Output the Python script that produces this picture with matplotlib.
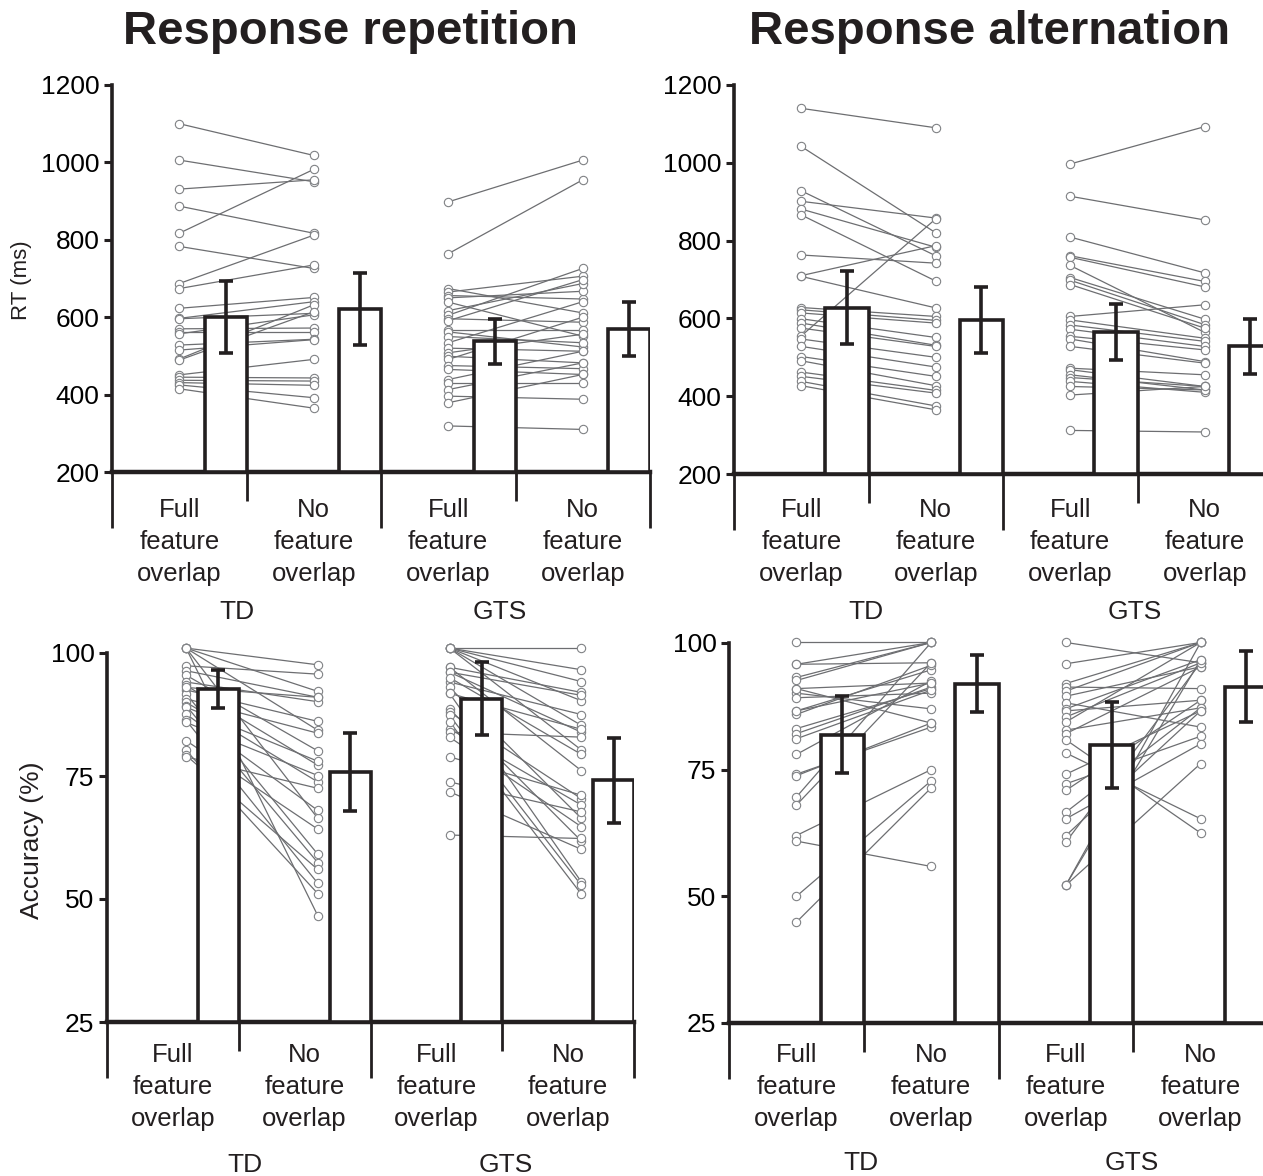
import numpy as np
import matplotlib.pyplot as plt

plt.rcParams['font.family'] = ['Liberation Sans', 'DejaVu Sans']

W, H = 1263, 1176
INK = '#231f20'
GREY = '#6d6e71'
RING = '#808285'

conditions = ['Full\nfeature\noverlap', 'No\nfeature\noverlap',
              'Full\nfeature\noverlap', 'No\nfeature\noverlap']
groups = ['TD', 'GTS']

# RT (ms), response repetition: group means +/- error, then single subjects
rt_rep_mean = [600, 621, 538, 570]
rt_rep_err = [93, 92, 58, 70]
rt_rep_td_full = [1100, 1006, 931, 887, 817, 783, 687, 674, 623, 597, 596, 570,
                  561, 557, 528, 515, 492, 489, 451, 445, 437, 431, 425, 415]
rt_rep_td_no = [1018, 950, 955, 817, 982, 726, 812, 735, 651, 640, 610, 572,
                561, 606, 543, 542, 632, 614, 491, 443, 435, 424, 392, 365]
rt_rep_gts_full = [898, 764, 674, 665, 656, 650, 639, 617, 605, 596, 591, 568, 562, 550,
                   534, 520, 508, 499, 491, 475, 465, 439, 429, 413, 396, 379, 319]
rt_rep_gts_no = [1006, 955, 611, 706, 647, 667, 551, 687, 726, 587, 697, 568, 523, 534,
                 640, 512, 556, 482, 600, 467, 452, 512, 429, 482, 388, 452, 310]

# RT (ms), response alternation
rt_alt_mean = [627, 596, 565, 528]
rt_alt_err = [94, 86, 73, 70]
rt_alt_td_full = [1140, 1042, 928, 901, 881, 866, 763, 710, 708, 628, 622, 614,
                  599, 588, 575, 555, 547, 528, 502, 491, 462, 451, 438, 427]
rt_alt_td_no = [1090, 820, 761, 858, 783, 696, 742, 787, 627, 605, 595, 588,
                551, 531, 528, 856, 500, 475, 451, 427, 415, 408, 375, 365]
rt_alt_gts_full = [997, 914, 809, 761, 757, 736, 705, 698, 687, 605, 596, 583,
                   572, 554, 547, 528, 472, 468, 455, 448, 438, 425, 403, 312]
rt_alt_gts_no = [1093, 853, 717, 695, 681, 564, 598, 584, 575, 635, 549, 541,
                 528, 519, 489, 485, 455, 425, 416, 425, 410, 416, 425, 308]

# Accuracy (%), response repetition
acc_rep_mean = [92.7, 75.8, 90.7, 74.1]
acc_rep_err = [3.9, 8.0, 7.4, 8.7]
acc_rep_td_full = [101, 101, 101, 101, 101, 97.4, 96.4, 95.5, 94.1, 93.4, 92.5, 91.7,
                   90.7, 90.0, 89.3, 89.0, 87.6, 86.3, 85.9, 82.2, 80.2, 79.2, 78.9, 93.0]
acc_rep_td_no = [97.6, 92.2, 84.3, 66.4, 46.6, 95.7, 91.0, 80.1, 90.1, 77.2, 86.1, 59.1,
                 83.7, 73.8, 57.4, 78.0, 68.0, 53.2, 75.1, 64.2, 51.1, 56.0, 72.5, 91.0]
acc_rep_gts_full = [101, 101, 101, 101, 101, 101, 97.1, 97.1, 96.1, 96.1, 94.1, 93.0, 91.8,
                    91.8, 88.6, 88.0, 87.3, 84.6, 83.9, 82.9, 78.9, 73.8, 71.8, 63.0, 95.0, 86.0]
acc_rep_gts_no = [101, 96.6, 94.2, 90.3, 85.3, 80.3, 92.0, 76.1, 91.4, 83.9, 87.5, 66.4, 53.5,
                  84.5, 61.8, 70.4, 52.8, 69.1, 82.9, 64.7, 71.1, 67.7, 60.1, 62.3, 79.4, 51.0]

# Accuracy (%), response alternation
acc_alt_mean = [81.9, 92.0, 79.8, 91.4]
acc_alt_err = [7.6, 5.7, 8.5, 7.0]
acc_alt_td_full = [100.1, 95.8, 95.8, 93.2, 92.6, 91.0, 90.1, 89.2, 86.6, 85.9, 83.1, 82.1,
                   81.1, 78.0, 74.1, 73.8, 69.6, 68.0, 62.0, 60.9, 50.0, 44.9, 91.0, 86.6]
acc_alt_td_no = [100.1, 96.1, 100.1, 100.1, 100.1, 92.1, 87.0, 90.1, 94.7, 95.6, 91.0, 91.3,
                 90.7, 92.5, 83.4, 84.2, 100.1, 96.1, 75.0, 55.9, 72.8, 71.4, 84.2, 92.1]
acc_alt_gts_full = [100.1, 95.9, 92.0, 91.3, 90.5, 89.5, 88.2, 87.0, 86.6, 85.4, 84.4, 82.8, 82.1,
                    80.9, 78.3, 74.1, 72.2, 70.9, 66.6, 65.3, 62.0, 60.7, 52.2, 52.2, 52.2]
acc_alt_gts_no = [96.1, 100.1, 100.1, 91.0, 100.1, 95.3, 83.4, 96.7, 88.7, 96.1, 100.1, 87.2, 95.3,
                  62.5, 65.3, 86.6, 81.6, 88.7, 87.2, 80.1, 86.6, 96.1, 100.1, 96.7, 76.2]

fig = plt.figure(figsize=(W / 100, H / 100), dpi=100)


def add_axes(left, right, top, bottom):
    return fig.add_axes([left / W, 1 - bottom / H, (right - left) / W, (bottom - top) / H])


def below(ax, px):
    return -px / ax.bbox.height


def draw_panel(ax, ylim, yticks, means, errs, subjects, pt_off, bar_w,
               text_px, group_px, group_x):
    ymin = ylim[0]
    # single-subject lines, full vs. no overlap
    for g, (full, no) in enumerate(subjects):
        xs = [2 * g + pt_off, 2 * g + 1 + pt_off]
        ys = np.array([full, no], dtype=float)
        ax.plot(xs, ys, color=GREY, lw=0.9, zorder=2, clip_on=False)
        for x, y in zip(xs, ys):
            ax.plot(np.full(len(y), x), y, ls='none', marker='o', ms=6,
                    mfc='white', mec=RING, mew=0.8, zorder=2.5, clip_on=False)

    lefts = np.arange(4) + 1 - bar_w
    ax.bar(lefts, np.array(means) - ymin, bottom=ymin, width=bar_w, align='edge',
           color='white', edgecolor=INK, linewidth=2.6, zorder=3)
    ax.errorbar(lefts + bar_w / 2, means, yerr=errs, fmt='none', ecolor=INK,
                elinewidth=2.6, capsize=4.8, capthick=2.6, zorder=4)

    ax.set_xlim(0, 4)
    ax.set_ylim(*ylim)
    ax.set_yticks(yticks)
    ax.set_xticks([])
    ax.spines[['top', 'right']].set_visible(False)
    ax.spines['left'].set_linewidth(2.6)
    ax.spines['left'].set_color(INK)
    ax.spines['bottom'].set_linewidth(3.2)
    ax.spines['bottom'].set_color(INK)
    ax.tick_params(axis='y', direction='out', length=6, width=2.2, color=INK,
                   labelsize=19, pad=3)

    tr = ax.get_xaxis_transform()
    for x in range(5):
        depth = 56 if x % 2 == 0 else 29
        ax.plot([x, x], [0, below(ax, depth)], transform=tr, color=INK, lw=2.0,
                solid_capstyle='butt', clip_on=False)
    for i, lab in enumerate(conditions):
        ax.text(i + 0.5, below(ax, text_px), lab, transform=tr, ha='center',
                va='center', fontsize=18.5, linespacing=1.42, color=INK)
    for x, g in zip(group_x, groups):
        ax.text(x, below(ax, group_px), g, transform=tr, ha='center', va='center',
                fontsize=19, color=INK)


ax1 = add_axes(112, 650, 85, 472)
draw_panel(ax1, (200, 1200), range(200, 1201, 200), rt_rep_mean, rt_rep_err,
           [(rt_rep_td_full, rt_rep_td_no), (rt_rep_gts_full, rt_rep_gts_no)],
           0.5, 0.31, 70, 140, [0.93, 2.88])

ax2 = add_axes(734, 1272, 85, 474)
draw_panel(ax2, (200, 1200), range(200, 1201, 200), rt_alt_mean, rt_alt_err,
           [(rt_alt_td_full, rt_alt_td_no), (rt_alt_gts_full, rt_alt_gts_no)],
           0.5, 0.32, 68, 138, [0.98, 2.98])

ax3 = add_axes(107, 634, 653, 1022)
draw_panel(ax3, (25, 100), [25, 50, 75, 100], acc_rep_mean, acc_rep_err,
           [(acc_rep_td_full, acc_rep_td_no), (acc_rep_gts_full, acc_rep_gts_no)],
           0.6, 0.31, 65, 143, [1.05, 3.03])

ax4 = add_axes(729, 1268, 643, 1023)
draw_panel(ax4, (25, 100), [25, 50, 75, 100], acc_alt_mean, acc_alt_err,
           [(acc_alt_td_full, acc_alt_td_no), (acc_alt_gts_full, acc_alt_gts_no)],
           0.5, 0.32, 64, 140, [0.98, 2.99])

fig.text(350 / W, 1 - 32 / H, 'Response repetition', ha='center', va='center',
         fontsize=34, fontweight='bold', color=INK)
fig.text(990 / W, 1 - 32 / H, 'Response alternation', ha='center', va='center',
         fontsize=34, fontweight='bold', color=INK)
fig.text(22 / W, 1 - 280 / H, 'RT (ms)', rotation=90, ha='center', va='center',
         fontsize=16, color=INK)
fig.text(32 / W, 1 - 840 / H, 'Accuracy (%)', rotation=90, ha='center', va='center',
         fontsize=19, color=INK)

fig.savefig('out.png', dpi=100, facecolor='white')
